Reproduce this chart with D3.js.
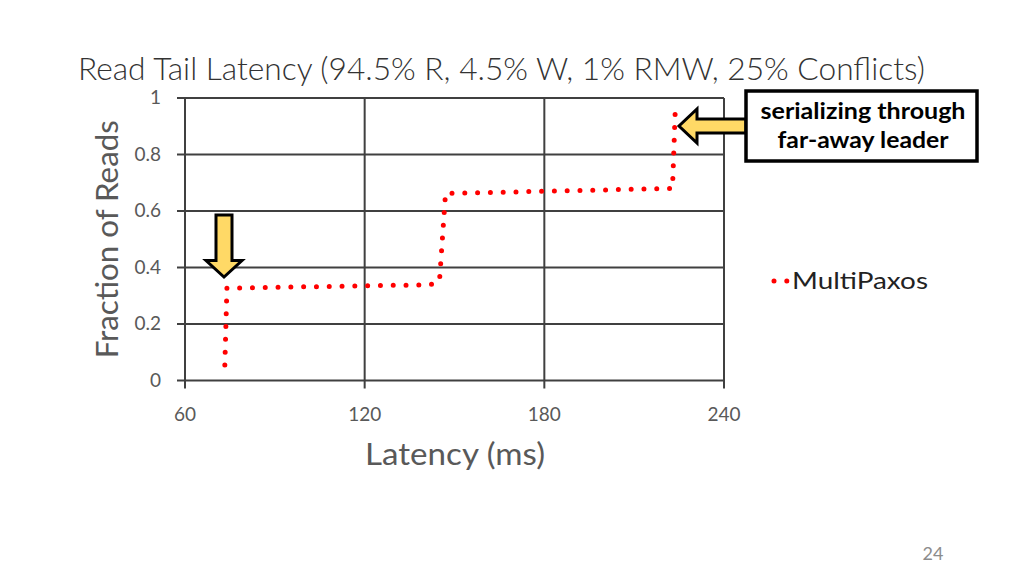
<!DOCTYPE html>
<html>
<head>
<meta charset="utf-8">
<script src="https://cdn.jsdelivr.net/npm/d3@7"></script>
<style>
  body { margin: 0; background: #fff; }
  svg { display: block; }
</style>
</head>
<body>
<script>
// data
var latency = [73.3, 74, 142, 145, 147, 222.8, 223.7];
var fraction = [0.055, 0.327, 0.339, 0.355, 0.662, 0.68, 0.951];
var xTicks = [60, 120, 180, 240];
var yTicks = [0, 0.2, 0.4, 0.6, 0.8, 1];
var yTickLabels = ["0", "0.2", "0.4", "0.6", "0.8", "1"];
var seriesName = "MultiPaxos";

var w = 1024;
var h = 576;
var grid = "#404040";
var labelColor = "#595959";

var svg = d3.select("body")
    .append("svg")
    .attr("width", w)
    .attr("height", h);

var xScale = d3.scaleLinear()
    .domain([60, 240])
    .range([185, 724]);

var yScale = d3.scaleLinear()
    .domain([0, 1])
    .range([380.5, 98]);

// title
svg.append("text")
    .attr("x", 78)
    .attr("y", 80)
    .attr("textLength", 847)
    .attr("lengthAdjust", "spacingAndGlyphs")
    .style("font-family", "Lato, 'Open Sans', sans-serif")
    .style("font-weight", 300)
    .style("font-size", "32px")
    .style("fill", "#333")
    .text("Read Tail Latency (94.5% R, 4.5% W, 1% RMW, 25% Conflicts)");

// horizontal gridlines
svg.selectAll("line.hgrid")
    .data(yTicks)
    .enter()
    .append("line")
    .attr("class", "hgrid")
    .attr("x1", 177)
    .attr("x2", xScale(240))
    .attr("y1", function(d) { return yScale(d); })
    .attr("y2", function(d) { return yScale(d); })
    .attr("stroke", grid)
    .attr("stroke-width", 2);

// vertical gridlines (incl. the y axis and right border)
svg.selectAll("line.vgrid")
    .data(xTicks)
    .enter()
    .append("line")
    .attr("class", "vgrid")
    .attr("x1", function(d) { return xScale(d); })
    .attr("x2", function(d) { return xScale(d); })
    .attr("y1", yScale(1))
    .attr("y2", yScale(0) + 8)
    .attr("stroke", grid)
    .attr("stroke-width", 2);

// y tick labels
svg.selectAll("text.ytick")
    .data(yTicks)
    .enter()
    .append("text")
    .attr("class", "ytick")
    .attr("x", 161)
    .attr("y", function(d) { return yScale(d) + 6; })
    .attr("text-anchor", "end")
    .style("font-family", "Lato, sans-serif")
    .style("font-size", "19px")
    .style("fill", labelColor)
    .text(function(d, i) { return yTickLabels[i]; });

// x tick labels
svg.selectAll("text.xtick")
    .data(xTicks)
    .enter()
    .append("text")
    .attr("class", "xtick")
    .attr("x", function(d) { return xScale(d); })
    .attr("y", 421)
    .attr("text-anchor", "middle")
    .style("font-family", "Lato, sans-serif")
    .style("font-size", "19px")
    .style("fill", labelColor)
    .text(function(d) { return d; });

// axis titles
svg.append("text")
    .attr("x", 455)
    .attr("y", 465)
    .attr("text-anchor", "middle")
    .attr("textLength", 180)
    .attr("lengthAdjust", "spacingAndGlyphs")
    .style("font-family", "Lato, sans-serif")
    .style("font-size", "30px")
    .style("fill", labelColor)
    .text("Latency (ms)");

svg.append("text")
    .attr("transform", "translate(118," + yScale(0.5) + ") rotate(-90)")
    .attr("text-anchor", "middle")
    .attr("textLength", 238)
    .attr("lengthAdjust", "spacingAndGlyphs")
    .style("font-family", "Lato, sans-serif")
    .style("font-size", "31px")
    .style("fill", labelColor)
    .text("Fraction of Reads");

// the dotted series
var line = d3.line()
    .x(function(d) { return xScale(d[0]); })
    .y(function(d) { return yScale(d[1]); });

svg.append("path")
    .datum(d3.zip(latency, fraction))
    .attr("d", line)
    .attr("fill", "none")
    .attr("stroke", "#ff0000")
    .attr("stroke-width", 5)
    .attr("stroke-linecap", "round")
    .attr("stroke-linejoin", "round")
    .attr("stroke-dasharray", "0 12.8");

// legend
svg.append("line")
    .attr("x1", 774)
    .attr("x2", 787)
    .attr("y1", 281)
    .attr("y2", 281)
    .attr("stroke", "#ff0000")
    .attr("stroke-width", 5)
    .attr("stroke-linecap", "round")
    .attr("stroke-dasharray", "0 12.8");

svg.append("text")
    .attr("x", 792)
    .attr("y", 289)
    .attr("textLength", 136)
    .attr("lengthAdjust", "spacingAndGlyphs")
    .style("font-family", "Lato, sans-serif")
    .style("font-size", "24px")
    .style("fill", "#222")
    .text(seriesName);

// down arrow callout
var arrowFill = "#ffd966";
svg.append("path")
    .attr("d", "M216,215 L232,215 L232,260.5 L242,260.5 L224,277 L206,260.5 L216,260.5 Z")
    .attr("fill", arrowFill)
    .attr("stroke", "#000")
    .attr("stroke-width", 3)
    .attr("stroke-linejoin", "miter");

// left arrow callout
svg.append("path")
    .attr("d", "M746,119 L697,119 L697,109 L679,126 L697,143 L697,133 L746,133 Z")
    .attr("fill", arrowFill)
    .attr("stroke", "#000")
    .attr("stroke-width", 3);

// annotation box
svg.append("rect")
    .attr("x", 746)
    .attr("y", 91)
    .attr("width", 231)
    .attr("height", 70)
    .attr("fill", "#fff")
    .attr("stroke", "#000")
    .attr("stroke-width", 3.5);

var noteLines = ["serializing through", "far-away leader"];
var noteWidths = [205, 171];
svg.selectAll("text.note")
    .data(noteLines)
    .enter()
    .append("text")
    .attr("class", "note")
    .attr("x", 863)
    .attr("y", function(d, i) { return 119 + i * 29; })
    .attr("text-anchor", "middle")
    .attr("textLength", function(d, i) { return noteWidths[i]; })
    .attr("lengthAdjust", "spacingAndGlyphs")
    .style("font-family", "Lato, sans-serif")
    .style("font-weight", "bold")
    .style("font-size", "23px")
    .style("fill", "#000")
    .text(function(d) { return d; });

// slide number
svg.append("text")
    .attr("x", 933)
    .attr("y", 560)
    .attr("text-anchor", "middle")
    .style("font-family", "Lato, sans-serif")
    .style("font-size", "18px")
    .style("fill", "#8c8c8c")
    .text("24");
</script>
</body>
</html>
